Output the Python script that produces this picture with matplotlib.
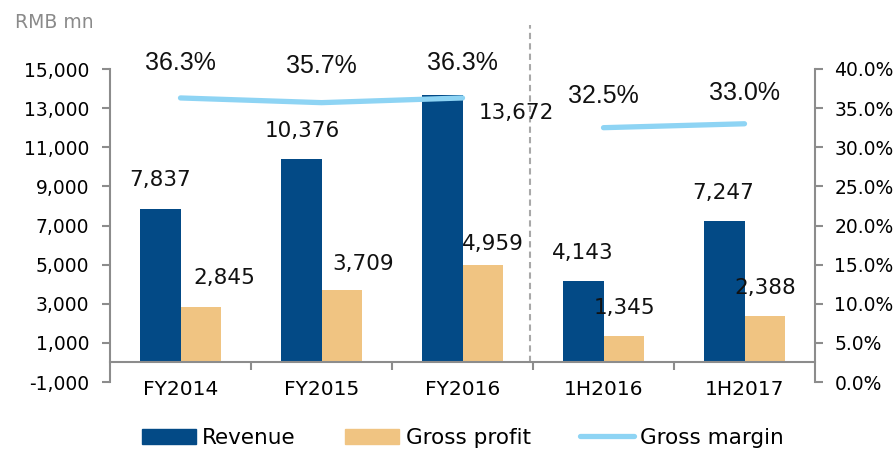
import matplotlib
matplotlib.use('Agg')
import matplotlib.pyplot as plt
import numpy as np
from matplotlib.patches import Patch
from matplotlib.lines import Line2D

periods = ['FY2014', 'FY2015', 'FY2016', '1H2016', '1H2017']
revenue = [7837, 10376, 13672, 4143, 7247]
gross_profit = [2845, 3709, 4959, 1345, 2388]
gross_margin = [0.363, 0.357, 0.363, 0.325, 0.330]

# label anchors (x in category units, y in data units)
rev_lbl_x = [-0.145, 0.862, 2.38, 2.855, 3.847]
rev_lbl_y = [9340, 11830, 12750, 5610, 8670]
gp_lbl_x = [0.309, 1.294, 2.216, 3.152, 4.145]
gp_lbl_y = [4340, 5050, 6070, 2800, 3830]
gm_lbl_y = [0.408, 0.404, 0.408, 0.365, 0.369]

blue = '#034a86'
tan = '#f0c482'
light = '#8ed4f4'
grey = '#8c8c8c'

fig = plt.figure(figsize=(8.94, 4.51), dpi=100)
ax1 = fig.add_axes([110 / 894, 1 - 382 / 451, 705 / 894, 313 / 451])
ax2 = ax1.twinx()

x = np.arange(len(periods))
w = 0.284
ax1.bar(x - w / 2, revenue, w, color=blue, zorder=2)
ax1.bar(x + w / 2, gross_profit, w, color=tan, zorder=2)

ax1.set_xlim(-0.5, 4.5)
ax1.set_ylim(-1000, 15000)
ax1.set_yticks(np.arange(-1000, 15001, 2000))
ax1.set_yticklabels([f'{v:,}' for v in range(-1000, 15001, 2000)])

ax1.spines['top'].set_visible(False)
ax1.spines['right'].set_visible(False)
ax1.spines['bottom'].set_position(('data', 0))
for s in ['left', 'bottom']:
    ax1.spines[s].set_color(grey)
    ax1.spines[s].set_linewidth(1.5)

ax1.set_xticks(x)
ax1.set_xticklabels(periods)
ax1.set_xticks(np.arange(0.5, 4.0, 1.0), minor=True)
ax1.tick_params(axis='x', which='major', length=0, pad=12.5, labelsize=14.5)
ax1.tick_params(axis='x', which='minor', length=6, width=1.5, color=grey)
ax1.tick_params(axis='y', length=6, width=1.5, color=grey, labelsize=13.5, pad=9)

# gross margin, broken between annual and half-year figures
ax2.plot(x[:3], gross_margin[:3], color=light, lw=3.8, solid_capstyle='round', zorder=3)
ax2.plot(x[3:], gross_margin[3:], color=light, lw=3.8, solid_capstyle='round', zorder=3)
ax2.set_ylim(0, 0.40)
ax2.set_yticks(np.arange(0, 0.401, 0.05))
ax2.set_yticklabels([f'{v * 100:.1f}%' for v in np.arange(0, 0.401, 0.05)])
ax2.tick_params(axis='y', length=6, width=1.5, color=grey, labelsize=13.5, pad=8)
for s in ['top', 'left', 'bottom']:
    ax2.spines[s].set_visible(False)
ax2.spines['right'].set_color(grey)
ax2.spines['right'].set_linewidth(1.5)

ax1.axvline(2.48, ymin=0.0625, ymax=1.14, color='#a8a8a8', lw=1.5, ls=(0, (3, 2)),
            clip_on=False, zorder=1)

for i in range(len(periods)):
    ax1.text(rev_lbl_x[i], rev_lbl_y[i], f'{revenue[i]:,}', ha='center', va='center',
             fontsize=15.5, color='#111111', zorder=5)
    ax1.text(gp_lbl_x[i], gp_lbl_y[i], f'{gross_profit[i]:,}', ha='center', va='center',
             fontsize=15.5, color='#111111', zorder=5)
    ax2.text(x[i], gm_lbl_y[i], f'{gross_margin[i] * 100:.1f}%', ha='center', va='center',
             fontsize=18, family='Liberation Sans', color='#111111', zorder=5)

fig.text(15 / 894, 1 - 22 / 451, 'RMB mn', fontsize=13.5, color='#8a8a8a', va='center')

handles = [Patch(color=blue), Patch(color=tan),
           Line2D([], [], color=light, lw=3.8, solid_capstyle='round')]
fig.legend(handles, ['Revenue', 'Gross profit', 'Gross margin'], loc='center',
           bbox_to_anchor=(0.518, 1 - 438 / 451), ncol=3, frameon=False, fontsize=15.5,
           handlelength=2.5, handleheight=0.7, handletextpad=0.3, columnspacing=2.3)

fig.savefig('out.png', dpi=100)
